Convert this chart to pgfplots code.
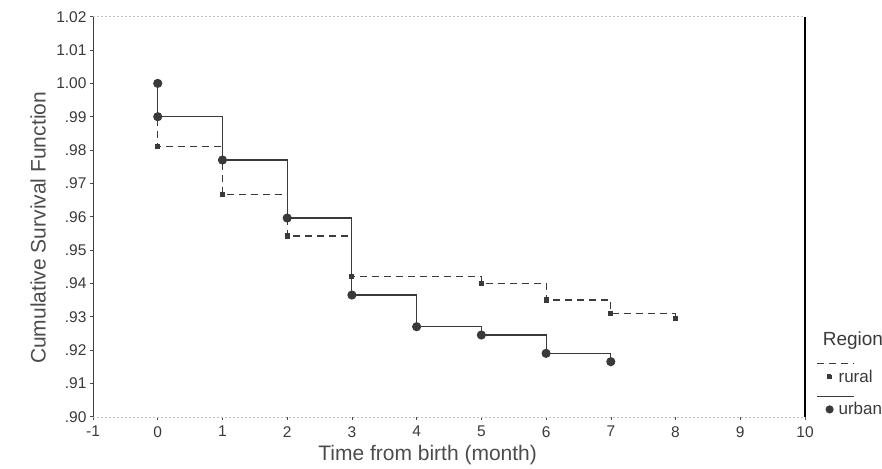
\documentclass[border=0pt]{standalone}
\usepackage{pgfplots}
\pgfplotsset{compat=1.18}
\usepackage{fontspec}
\setmainfont{Liberation Sans}
\definecolor{ink}{HTML}{3A3A3A}
\begin{document}
\begin{tikzpicture}[x=1pt,y=1pt]
\path[use as bounding box] (0,0) rectangle (882,468);
\begin{axis}[
  at={(93pt,51.3pt)}, anchor=south west,
  scale only axis, width=712pt, height=400pt,
  clip mode=individual,
  xmin=-1, xmax=10, ymin=0.90, ymax=1.02,
  xtick={-1,0,1,2,3,4,5,6,7,8,9,10},
  xticklabels={-1,0,1,2,3,4,5,6,7,8,9,10},
  ytick={0.90,0.91,0.92,0.93,0.94,0.95,0.96,0.97,0.98,0.99,1.00,1.01,1.02},
  yticklabels={.90,.91,.92,.93,.94,.95,.96,.97,.98,.99,1.00,1.01,1.02},
  /pgf/number format/assume math mode=true,
  separate axis lines,
  x axis line style={draw=black!25, dash pattern=on 2pt off 2pt},
  y axis line style={draw=black!75, line width=0.7pt},
  tick style={black!70, line width=0.6pt},
  tick align=outside, major tick length=3pt,
  xtick pos=bottom, ytick pos=left,
  ticklabel style={font=\fontsize{15.5}{16}\selectfont, text=ink},
  xticklabel style={yshift=-3pt},
  xlabel={Time from birth (month)},
  ylabel={Cumulative Survival Function},
  label style={font=\fontsize{21}{22}\selectfont, text=black!70},
  xlabel style={at={(axis description cs:0.47,-0.096)}, anchor=center},
  ylabel style={at={(axis description cs:-0.077,0.472)}, anchor=center},
  legend style={at={(axis description cs:1.0244,0.128)}, anchor=north west,
    draw=none, fill=none, font=\fontsize{17}{18}\selectfont, row sep=15pt,
    nodes={text=ink}},
  legend cell align=left,
]
\addplot[const plot, ink, line width=1.1pt, dash pattern=on 7pt off 5pt,
  mark=square*, mark size=2pt, mark options={solid, fill=ink},
  mark indices={2,3,4,5,6,7,8,9},
  legend image code/.code={
    \draw[overlay, ink, line width=1.1pt, dash pattern=on 7pt off 5pt] (-18pt,13pt) -- (19pt,13pt);
    \path[draw=none, fill=none] (-7pt,0pt) -- (2pt,0pt);
    \fill[ink] (-7pt,-2pt) rectangle (-3pt,2pt);
  }] coordinates {
  (0,1.000) (0,0.981) (1,0.9667) (2,0.9542) (3,0.942) (5,0.940) (6,0.935) (7,0.931) (8,0.9295)
};
\addlegendentry{rural}
\addplot[const plot, ink, line width=1.1pt, solid,
  mark=*, mark size=4pt, mark options={fill=ink},
  legend image code/.code={
    \draw[overlay, ink, line width=1.1pt] (-18pt,13pt) -- (19pt,13pt);
    \path[draw=none, fill=none] (-8.5pt,0pt) -- (2pt,0pt);
    \fill[ink] (-5pt,0pt) circle (3.5pt);
  }] coordinates {
  (0,1.000) (0,0.990) (1,0.977) (2,0.9596) (3,0.9365) (4,0.927) (5,0.9245) (6,0.919) (7,0.9165)
};
\addlegendentry{urban}
\draw[black, line width=1.6pt] (rel axis cs:1,0) -- (rel axis cs:1,1);
\node[anchor=west, font=\fontsize{19}{20}\selectfont, text=ink] at (axis description cs:1.02,0.19) {Region};
\end{axis}
\end{tikzpicture}
\end{document}
